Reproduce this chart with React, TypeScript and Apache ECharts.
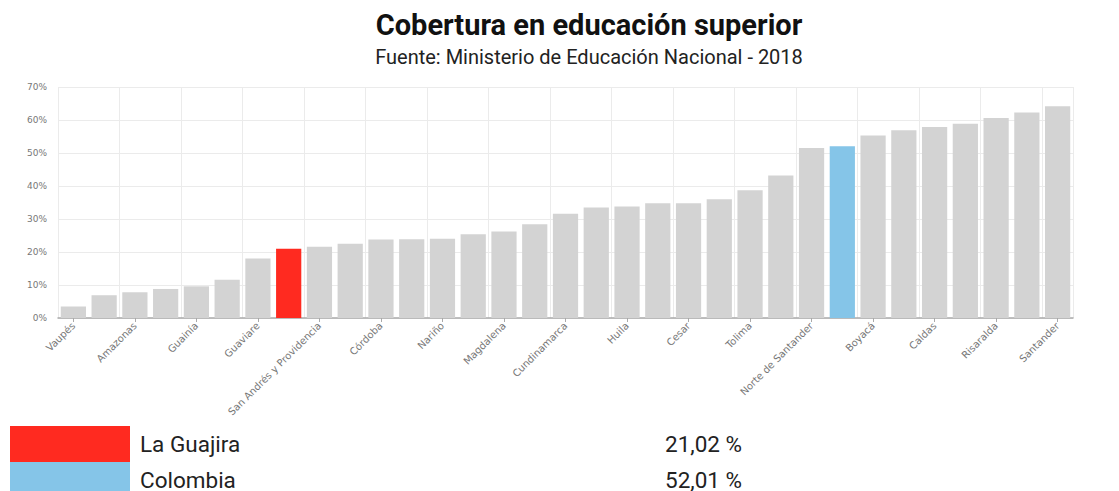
import React, { useEffect, useRef } from "react";
import * as echarts from "echarts";

const categories = [
  "Vaupés", "Vichada", "Amazonas", "Putumayo", "Guainía", "Chocó", "Guaviare",
  "La Guajira", "San Andrés y Providencia", "Caquetá", "Córdoba", "Cauca", "Nariño",
  "Arauca", "Magdalena", "Sucre", "Cundinamarca", "Casanare", "Huila", "Bolívar",
  "Cesar", "Meta", "Tolima", "Valle del Cauca", "Norte de Santander", "Colombia",
  "Boyacá", "Atlántico", "Caldas", "Antioquia", "Risaralda", "Quindío", "Santander",
];
const coverage = [
  3.5, 6.9, 7.8, 8.8, 9.6, 11.6, 18.0,
  21.02, 21.6, 22.5, 23.8, 23.9, 24.0,
  25.4, 26.2, 28.4, 31.6, 33.5, 33.8, 34.8,
  34.8, 36.0, 38.7, 43.2, 51.5, 52.01,
  55.3, 56.9, 57.9, 58.9, 60.6, 62.3, 64.2,
];
const highlightNames = ["La Guajira", "Colombia"];
const highlightColors = ["#ff2a20", "#85c5e8"];
const baseColor = "#d3d3d3";
const yMax = 70;
const yInterval = 10;
const titleText = "Cobertura en educación superior";
const subtitleText = "Fuente: Ministerio de Educación Nacional - 2018";

const fmt = (v: number) => v.toFixed(2).replace(".", ",") + " %";

export default function App() {
  const ref = useRef<HTMLDivElement>(null);
  useEffect(() => {
    if (!ref.current) return;
    const chart = echarts.init(ref.current, null, { renderer: "svg" });
    const data = coverage.map((v, i) => {
      const h = highlightNames.indexOf(categories[i]);
      return {
        value: v,
        itemStyle: { color: h >= 0 ? highlightColors[h] : baseColor },
      };
    });
    const legendGraphics: any[] = [];
    highlightNames.forEach((name, k) => {
      const idx = categories.indexOf(name);
      const top = 426 + k * 36;
      legendGraphics.push({
        type: "rect",
        left: 10,
        top,
        shape: { width: 120, height: 36 },
        style: { fill: highlightColors[k] },
      });
      legendGraphics.push({
        type: "text",
        left: 140,
        top: top + 6,
        style: {
          text: name,
          fill: "#222",
          font: "22.5px Roboto",
        },
      });
      legendGraphics.push({
        type: "text",
        left: 665,
        top: top + 6,
        style: {
          text: fmt(coverage[idx]),
          fill: "#222",
          font: "22.5px Roboto",
        },
      });
    });
    chart.setOption({
      animation: false,
      backgroundColor: "#ffffff",
      title: [
        {
          text: titleText,
          left: 589,
          textAlign: "center",
          top: 10,
          padding: 0,
          textStyle: {
            fontFamily: "Roboto",
            fontWeight: "bold",
            fontSize: 29,
            color: "#111",
          },
        },
        {
          text: subtitleText,
          left: 589,
          textAlign: "center",
          top: 47,
          padding: 0,
          textStyle: {
            fontFamily: "Roboto",
            fontWeight: "normal",
            fontSize: 20,
            color: "#222",
          },
        },
      ],
      grid: { left: 58, right: 46, top: 87, bottom: 173 },
      xAxis: {
        type: "category",
        data: categories,
        axisLine: { lineStyle: { color: "#aaaaaa", width: 1.5 } },
        axisTick: {
          show: true,
          interval: 1,
          alignWithLabel: true,
          length: 4,
          lineStyle: { color: "#aaaaaa" },
        },
        axisLabel: {
          interval: 1,
          rotate: 45,
          fontSize: 10,
          fontFamily: "DejaVu Sans",
          color: "#777",
          margin: 6,
        },
        splitLine: {
          show: true,
          interval: 1,
          lineStyle: { color: "#ebebeb" },
        },
      },
      yAxis: {
        type: "value",
        min: 0,
        max: yMax,
        interval: yInterval,
        axisLine: { show: false },
        axisTick: { show: false },
        axisLabel: {
          formatter: "{value}%",
          fontSize: 9,
          fontFamily: "DejaVu Sans",
          color: "#777",
          margin: 11,
        },
        splitLine: { lineStyle: { color: "#ebebeb" } },
      },
      series: [
        {
          type: "bar",
          data,
          barCategoryGap: "18%",
        },
      ],
      graphic: legendGraphics,
    });
    return () => chart.dispose();
  }, []);
  return (
    <div
      ref={ref}
      style={{ position: "fixed", left: 0, top: 0, width: 1119, height: 491 }}
    />
  );
}
